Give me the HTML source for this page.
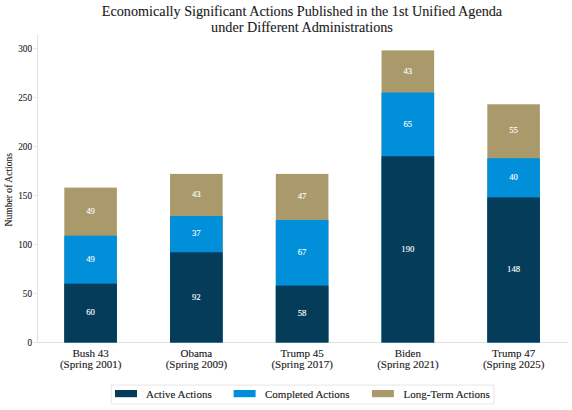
<!DOCTYPE html>
<html><head><meta charset="utf-8"><style>
html,body{margin:0;padding:0;background:#fff;width:572px;height:410px;overflow:hidden}
svg{display:block}
text{font-family:"Liberation Serif", serif;fill:#1a1a1a;stroke:#1a1a1a;stroke-width:0.12px}
</style></head><body>
<svg width="572" height="410" viewBox="0 0 572 410">
<line x1="37.6" y1="34.4" x2="37.6" y2="342.5" stroke="#e0e0e0" stroke-width="1"/>
<line x1="37.6" y1="342.5" x2="568" y2="342.5" stroke="#e0e0e0" stroke-width="1"/>
<line x1="33.6" y1="342.50" x2="37.6" y2="342.50" stroke="#e0e0e0" stroke-width="0.8"/>
<text transform="translate(32,346.10) scale(0.9,1)" text-anchor="end" font-size="10.2" style="stroke-width:0.1px">0</text>
<line x1="33.6" y1="293.49" x2="37.6" y2="293.49" stroke="#e0e0e0" stroke-width="0.8"/>
<text transform="translate(32,297.09) scale(0.9,1)" text-anchor="end" font-size="10.2" style="stroke-width:0.1px">50</text>
<line x1="33.6" y1="244.47" x2="37.6" y2="244.47" stroke="#e0e0e0" stroke-width="0.8"/>
<text transform="translate(32,248.07) scale(0.9,1)" text-anchor="end" font-size="10.2" style="stroke-width:0.1px">100</text>
<line x1="33.6" y1="195.46" x2="37.6" y2="195.46" stroke="#e0e0e0" stroke-width="0.8"/>
<text transform="translate(32,199.06) scale(0.9,1)" text-anchor="end" font-size="10.2" style="stroke-width:0.1px">150</text>
<line x1="33.6" y1="146.44" x2="37.6" y2="146.44" stroke="#e0e0e0" stroke-width="0.8"/>
<text transform="translate(32,150.04) scale(0.9,1)" text-anchor="end" font-size="10.2" style="stroke-width:0.1px">200</text>
<line x1="33.6" y1="97.43" x2="37.6" y2="97.43" stroke="#e0e0e0" stroke-width="0.8"/>
<text transform="translate(32,101.03) scale(0.9,1)" text-anchor="end" font-size="10.2" style="stroke-width:0.1px">250</text>
<line x1="33.6" y1="48.41" x2="37.6" y2="48.41" stroke="#e0e0e0" stroke-width="0.8"/>
<text transform="translate(32,52.01) scale(0.9,1)" text-anchor="end" font-size="10.2" style="stroke-width:0.1px">300</text>
<rect x="64.30" y="187.61" width="52.6" height="154.89" fill="#aa9a6b"/>
<rect x="64.30" y="235.65" width="52.6" height="106.85" fill="#028fd9"/>
<rect x="64.30" y="283.68" width="52.6" height="58.82" fill="#043c5a"/>
<text x="90.60" y="315.29" text-anchor="middle" font-size="8.7" style="fill:#fff;stroke:#fff;stroke-width:0.12px">60</text>
<text x="90.60" y="261.86" text-anchor="middle" font-size="8.7" style="fill:#fff;stroke:#fff;stroke-width:0.12px">49</text>
<text x="90.60" y="213.83" text-anchor="middle" font-size="8.7" style="fill:#fff;stroke:#fff;stroke-width:0.12px">49</text>
<text x="90.60" y="356.6" text-anchor="middle" font-size="11">Bush 43</text>
<text x="90.60" y="367.8" text-anchor="middle" font-size="11">(Spring 2001)</text>
<rect x="170.05" y="173.89" width="52.6" height="168.61" fill="#aa9a6b"/>
<rect x="170.05" y="216.04" width="52.6" height="126.46" fill="#028fd9"/>
<rect x="170.05" y="252.31" width="52.6" height="90.19" fill="#043c5a"/>
<text x="196.35" y="299.61" text-anchor="middle" font-size="8.7" style="fill:#fff;stroke:#fff;stroke-width:0.12px">92</text>
<text x="196.35" y="236.38" text-anchor="middle" font-size="8.7" style="fill:#fff;stroke:#fff;stroke-width:0.12px">37</text>
<text x="196.35" y="197.16" text-anchor="middle" font-size="8.7" style="fill:#fff;stroke:#fff;stroke-width:0.12px">43</text>
<text x="196.35" y="356.6" text-anchor="middle" font-size="11">Obama</text>
<text x="196.35" y="367.8" text-anchor="middle" font-size="11">(Spring 2009)</text>
<rect x="275.80" y="173.89" width="52.6" height="168.61" fill="#aa9a6b"/>
<rect x="275.80" y="219.96" width="52.6" height="122.54" fill="#028fd9"/>
<rect x="275.80" y="285.64" width="52.6" height="56.86" fill="#043c5a"/>
<text x="302.10" y="316.27" text-anchor="middle" font-size="8.7" style="fill:#fff;stroke:#fff;stroke-width:0.12px">58</text>
<text x="302.10" y="255.00" text-anchor="middle" font-size="8.7" style="fill:#fff;stroke:#fff;stroke-width:0.12px">67</text>
<text x="302.10" y="199.13" text-anchor="middle" font-size="8.7" style="fill:#fff;stroke:#fff;stroke-width:0.12px">47</text>
<text x="302.10" y="356.6" text-anchor="middle" font-size="11">Trump 45</text>
<text x="302.10" y="367.8" text-anchor="middle" font-size="11">(Spring 2017)</text>
<rect x="381.55" y="50.37" width="52.6" height="292.13" fill="#aa9a6b"/>
<rect x="381.55" y="92.52" width="52.6" height="249.98" fill="#028fd9"/>
<rect x="381.55" y="156.24" width="52.6" height="186.26" fill="#043c5a"/>
<text x="407.85" y="251.57" text-anchor="middle" font-size="8.7" style="fill:#fff;stroke:#fff;stroke-width:0.12px">190</text>
<text x="407.85" y="126.58" text-anchor="middle" font-size="8.7" style="fill:#fff;stroke:#fff;stroke-width:0.12px">65</text>
<text x="407.85" y="73.65" text-anchor="middle" font-size="8.7" style="fill:#fff;stroke:#fff;stroke-width:0.12px">43</text>
<text x="407.85" y="356.6" text-anchor="middle" font-size="11">Biden</text>
<text x="407.85" y="367.8" text-anchor="middle" font-size="11">(Spring 2021)</text>
<rect x="487.30" y="104.29" width="52.6" height="238.21" fill="#aa9a6b"/>
<rect x="487.30" y="158.20" width="52.6" height="184.30" fill="#028fd9"/>
<rect x="487.30" y="197.42" width="52.6" height="145.08" fill="#043c5a"/>
<text x="513.60" y="272.16" text-anchor="middle" font-size="8.7" style="fill:#fff;stroke:#fff;stroke-width:0.12px">148</text>
<text x="513.60" y="180.01" text-anchor="middle" font-size="8.7" style="fill:#fff;stroke:#fff;stroke-width:0.12px">40</text>
<text x="513.60" y="133.45" text-anchor="middle" font-size="8.7" style="fill:#fff;stroke:#fff;stroke-width:0.12px">55</text>
<text x="513.60" y="356.6" text-anchor="middle" font-size="11">Trump 47</text>
<text x="513.60" y="367.8" text-anchor="middle" font-size="11">(Spring 2025)</text>
<text transform="translate(11.7,189.7) rotate(-90)" text-anchor="middle" font-size="9.6" style="stroke-width:0.1px">Number of Actions</text>
<text x="302" y="15.7" text-anchor="middle" font-size="14.2" style="stroke-width:0.1px">Economically Significant Actions Published in the 1st Unified Agenda</text>
<text x="302" y="31.6" text-anchor="middle" font-size="14.2" style="stroke-width:0.1px">under Different Administrations</text>
<rect x="111.2" y="385.1" width="382.8" height="18.8" fill="#fff" stroke="#e6e6e6" stroke-width="1"/>
<rect x="115" y="390" width="22" height="7.2" fill="#043c5a"/>
<text x="146.0" y="397.7" font-size="11">Active Actions</text>
<rect x="233.6" y="390" width="22" height="7.2" fill="#028fd9"/>
<text x="265" y="397.7" font-size="11">Completed Actions</text>
<rect x="371.9" y="390" width="22" height="7.2" fill="#aa9a6b"/>
<text x="403.6" y="397.7" font-size="11">Long-Term Actions</text>
</svg>
</body></html>
